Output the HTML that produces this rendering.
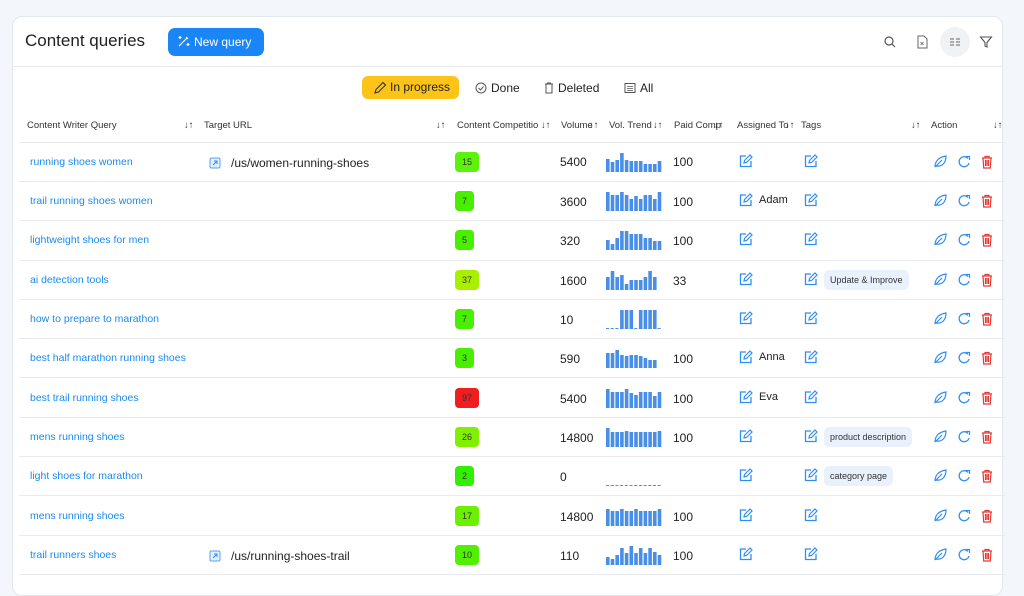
<!DOCTYPE html>
<html><head><meta charset="utf-8"><style>
*{box-sizing:border-box;margin:0;padding:0}
body{width:1024px;height:576px;overflow:hidden;background:#f3f6fb;font-family:"Liberation Sans",sans-serif;position:relative;color:#222}
.card{position:absolute;left:12px;top:16px;width:991px;height:580px;background:#fff;border:1px solid #e3e7ee;border-radius:10px}
.a{position:absolute;white-space:nowrap}
.t{position:absolute;font-size:12px;line-height:14px;white-space:nowrap}
.q{color:#1a8af0;font-size:10.5px}
.h{font-size:9.5px;color:#333;top:119px}
.line{position:absolute;left:19px;width:986px;height:1px;background:#e8eaee}
.b{position:absolute;height:20px;border-radius:4px;font-size:9px;line-height:20px;text-align:center;color:#333}
.tag{position:absolute;height:20px;border-radius:5px;background:#e9f1fd;font-size:9px;line-height:20px;padding:0 6px;color:#333}
svg.i{position:absolute;width:14px;height:14px}
svg.s{position:absolute;left:606px;width:56px;height:20px}
</style></head><body>
<svg width="0" height="0" style="position:absolute">
<defs>
<symbol id="ed" viewBox="0 0 14 14"><path d="M7 2H1.5v10.5H12V7" fill="none" stroke="#2f8ef5" stroke-width="1.3"/><path d="M5 9l.5-2.5L11 1l2 2-5.5 5.5z" fill="none" stroke="#2f8ef5" stroke-width="1.2"/></symbol>
<symbol id="lf" viewBox="0 0 14 14"><path d="M2 12C2 6 6 2 13 1c0 7-4 11-10 10M2 12l7-7" fill="none" stroke="#2f8ef5" stroke-width="1.2"/></symbol>
<symbol id="rf" viewBox="0 0 14 14"><path d="M11 3.5A5 5 0 1 0 12 8" fill="none" stroke="#2f8ef5" stroke-width="1.3"/><path d="M9 1.5h3.5V5" fill="none" stroke="#2f8ef5" stroke-width="1.2"/></symbol>
<symbol id="tr" viewBox="0 0 14 14"><path d="M2 3h10M5 3V1.5h4V3M3 3l.7 10h6.6L11 3M5.5 5v6M7 5v6M8.5 5v6" fill="none" stroke="#e53935" stroke-width="1.2"/></symbol>
<symbol id="ex" viewBox="0 0 14 14"><rect x="2" y="2" width="10" height="10" rx="1.5" fill="#e3efff" stroke="#5aa0f0"/><path d="M5 9l4-4M6 5h3v3" fill="none" stroke="#2f8ef5" stroke-width="1"/></symbol>
<symbol id="sp" viewBox="0 0 56 20"><g fill="#4a8fe7"/></symbol>
</defs></svg>

<div class="card"></div>
<div class="t" style="left:25px;top:31px;font-size:17px;line-height:20px;color:#222">Content queries</div>
<div class="a" style="left:168px;top:28px;width:96px;height:28px;background:#1a85f5;border-radius:7px;color:#fff;font-size:12px;line-height:28px;padding-left:26px">New query</div>
<svg class="i" style="left:177px;top:34px" viewBox="0 0 14 14"><path d="M2 12L10 4M9 3l2 2M3 2v3M1.5 3.5h3M11 9v3M9.5 10.5h3" stroke="#fff" stroke-width="1.2" fill="none"/></svg>
<svg class="i" style="left:883px;top:35px" viewBox="0 0 14 14"><circle cx="6" cy="6" r="4" fill="none" stroke="#555" stroke-width="1.2"/><path d="M9 9l3 3" stroke="#555" stroke-width="1.2"/></svg>
<svg class="i" style="left:915px;top:35px" viewBox="0 0 14 14"><path d="M3 1h6l3 3v9H3z" fill="none" stroke="#666"/><path d="M5.5 7l3 3M8.5 7l-3 3" stroke="#666" stroke-width=".8"/></svg>
<div class="a" style="left:940px;top:27px;width:30px;height:30px;border-radius:15px;background:#f1f2f4"></div>
<svg class="i" style="left:948px;top:35px" viewBox="0 0 14 14"><path d="M2 4h4M8 4h4M2 7h4M8 7h4M2 10h4M8 10h4" stroke="#666"/></svg>
<svg class="i" style="left:979px;top:35px" viewBox="0 0 14 14"><path d="M1.5 2h11L8 7.5V12L6 11V7.5z" fill="none" stroke="#555" stroke-width="1.1"/></svg>
<div class="a" style="left:12px;top:66px;width:991px;height:1px;background:#e8eaee"></div>

<div class="a" style="left:362px;top:76px;width:97px;height:23px;background:#fcc419;border-radius:6px;font-size:12px;line-height:23px;padding-left:28px;color:#222">In progress</div>
<svg class="i" style="left:373px;top:81px" viewBox="0 0 14 14"><path d="M2 12l1-3.5L10 1.5l2.5 2.5-7 7z" fill="none" stroke="#333" stroke-width="1.1"/></svg>
<svg class="i" style="left:474px;top:81px" viewBox="0 0 14 14"><circle cx="7" cy="7" r="5" fill="none" stroke="#555"/><path d="M4.5 7l2 2 3-3.5" fill="none" stroke="#555"/></svg>
<div class="t" style="left:491px;top:81px">Done</div>
<svg class="i" style="left:542px;top:81px" viewBox="0 0 14 14"><path d="M3 3h8M5.5 3V2h3v1M4 3.5v8.5h6V3.5" fill="none" stroke="#555"/></svg>
<div class="t" style="left:558px;top:81px">Deleted</div>
<svg class="i" style="left:623px;top:81px" viewBox="0 0 14 14"><rect x="2" y="2.5" width="10" height="9" fill="none" stroke="#555"/><path d="M4 5.5h6M4 7.5h6M4 9.5h6" stroke="#555" stroke-width=".8"/></svg>
<div class="t" style="left:640px;top:81px">All</div>

<div class="t h" style="left:27px">Content Writer Query</div><div class="t h" style="left:184px">↓↑</div>
<div class="t h" style="left:204px">Target URL</div><div class="t h" style="left:436px">↓↑</div>
<div class="t h" style="left:457px">Content Competitio</div><div class="t h" style="left:541px">↓↑</div>
<div class="t h" style="left:561px">Volume</div><div class="t h" style="left:589px">↓↑</div>
<div class="t h" style="left:609px">Vol. Trend</div><div class="t h" style="left:653px">↓↑</div>
<div class="t h" style="left:674px">Paid Comp</div><div class="t h" style="left:714px">↓↑</div>
<div class="t h" style="left:737px">Assigned To</div><div class="t h" style="left:785px">↓↑</div>
<div class="t h" style="left:801px">Tags</div><div class="t h" style="left:911px">↓↑</div>
<div class="t h" style="left:931px">Action</div><div class="t h" style="left:993px">↓↑</div>
<div class="line" style="top:142px"></div>

<!-- row 1 -->
<div class="t q" style="left:30px;top:155px">running shoes women</div>
<svg class="i" style="left:208px;top:156px"><use href="#ex"/></svg><div class="t" style="left:231px;top:156px">/us/women-running-shoes</div>
<div class="b" style="left:455px;top:152px;width:24px;background:#5cf20a">15</div>
<div class="t" style="left:560px;top:155px">5400</div>
<svg class="s" style="top:152px" viewBox="0 0 56 20"><g fill="#4a8fe7"><rect x="0" y="7" width="3.6" height="13"/><rect x="4.7" y="10" width="3.6" height="10"/><rect x="9.4" y="8" width="3.6" height="12"/><rect x="14.1" y="1" width="3.6" height="19"/><rect x="18.8" y="8" width="3.6" height="12"/><rect x="23.5" y="9" width="3.6" height="11"/><rect x="28.2" y="9" width="3.6" height="11"/><rect x="32.9" y="9" width="3.6" height="11"/><rect x="37.6" y="12" width="3.6" height="8"/><rect x="42.3" y="12" width="3.6" height="8"/><rect x="47" y="12" width="3.6" height="8"/><rect x="51.7" y="9" width="3.6" height="11"/></g></svg>
<div class="t" style="left:673px;top:155px">100</div>
<svg class="i" style="left:739px;top:154px"><use href="#ed"/></svg>
<svg class="i" style="left:804px;top:154px"><use href="#ed"/></svg>
<svg class="i" style="left:933px;top:155px"><use href="#lf"/></svg><svg class="i" style="left:957px;top:155px"><use href="#rf"/></svg><svg class="i" style="left:980px;top:155px"><use href="#tr"/></svg>
<div class="line" style="top:181px"></div>

<!-- row 2 -->
<div class="t q" style="left:30px;top:194px">trail running shoes women</div>
<div class="b" style="left:455px;top:191px;width:19px;background:#48f000">7</div>
<div class="t" style="left:560px;top:195px">3600</div>
<svg class="s" style="top:191px" viewBox="0 0 56 20"><g fill="#4a8fe7"><rect x="0" y="1" width="3.6" height="19"/><rect x="4.7" y="4" width="3.6" height="16"/><rect x="9.4" y="4" width="3.6" height="16"/><rect x="14.1" y="1" width="3.6" height="19"/><rect x="18.8" y="4" width="3.6" height="16"/><rect x="23.5" y="8" width="3.6" height="12"/><rect x="28.2" y="5" width="3.6" height="15"/><rect x="32.9" y="8" width="3.6" height="12"/><rect x="37.6" y="4" width="3.6" height="16"/><rect x="42.3" y="4" width="3.6" height="16"/><rect x="47" y="8" width="3.6" height="12"/><rect x="51.7" y="1" width="3.6" height="19"/></g></svg>
<div class="t" style="left:673px;top:195px">100</div>
<svg class="i" style="left:739px;top:193px"><use href="#ed"/></svg><div class="t" style="left:759px;top:193px;font-size:11px">Adam</div>
<svg class="i" style="left:804px;top:193px"><use href="#ed"/></svg>
<svg class="i" style="left:933px;top:194px"><use href="#lf"/></svg><svg class="i" style="left:957px;top:194px"><use href="#rf"/></svg><svg class="i" style="left:980px;top:194px"><use href="#tr"/></svg>
<div class="line" style="top:220px"></div>

<!-- row 3 -->
<div class="t q" style="left:30px;top:233px">lightweight shoes for men</div>
<div class="b" style="left:455px;top:230px;width:19px;background:#48f000">5</div>
<div class="t" style="left:560px;top:234px">320</div>
<svg class="s" style="top:230px" viewBox="0 0 56 20"><g fill="#4a8fe7"><rect x="0" y="10" width="3.6" height="10"/><rect x="4.7" y="14" width="3.6" height="6"/><rect x="9.4" y="8" width="3.6" height="12"/><rect x="14.1" y="1" width="3.6" height="19"/><rect x="18.8" y="1" width="3.6" height="19"/><rect x="23.5" y="4" width="3.6" height="16"/><rect x="28.2" y="4" width="3.6" height="16"/><rect x="32.9" y="4" width="3.6" height="16"/><rect x="37.6" y="8" width="3.6" height="12"/><rect x="42.3" y="8" width="3.6" height="12"/><rect x="47" y="11" width="3.6" height="9"/><rect x="51.7" y="11" width="3.6" height="9"/></g></svg>
<div class="t" style="left:673px;top:234px">100</div>
<svg class="i" style="left:739px;top:232px"><use href="#ed"/></svg>
<svg class="i" style="left:804px;top:232px"><use href="#ed"/></svg>
<svg class="i" style="left:933px;top:233px"><use href="#lf"/></svg><svg class="i" style="left:957px;top:233px"><use href="#rf"/></svg><svg class="i" style="left:980px;top:233px"><use href="#tr"/></svg>
<div class="line" style="top:260px"></div>

<!-- row 4 -->
<div class="t q" style="left:30px;top:273px">ai detection tools</div>
<div class="b" style="left:455px;top:270px;width:24px;background:#a8f000">37</div>
<div class="t" style="left:560px;top:274px">1600</div>
<svg class="s" style="top:270px" viewBox="0 0 56 20"><g fill="#4a8fe7"><rect x="0" y="7" width="3.6" height="13"/><rect x="4.7" y="1" width="3.6" height="19"/><rect x="9.4" y="7" width="3.6" height="13"/><rect x="14.1" y="5" width="3.6" height="15"/><rect x="18.8" y="14" width="3.6" height="6"/><rect x="23.5" y="10" width="3.6" height="10"/><rect x="28.2" y="10" width="3.6" height="10"/><rect x="32.9" y="10" width="3.6" height="10"/><rect x="37.6" y="7" width="3.6" height="13"/><rect x="42.3" y="1" width="3.6" height="19"/><rect x="47" y="7" width="3.6" height="13"/></g></svg>
<div class="t" style="left:673px;top:274px">33</div>
<svg class="i" style="left:739px;top:272px"><use href="#ed"/></svg>
<svg class="i" style="left:804px;top:272px"><use href="#ed"/></svg><div class="tag" style="left:824px;top:270px">Update &amp; Improve</div>
<svg class="i" style="left:933px;top:273px"><use href="#lf"/></svg><svg class="i" style="left:957px;top:273px"><use href="#rf"/></svg><svg class="i" style="left:980px;top:273px"><use href="#tr"/></svg>
<div class="line" style="top:299px"></div>

<!-- row 5 -->
<div class="t q" style="left:30px;top:312px">how to prepare to marathon</div>
<div class="b" style="left:455px;top:309px;width:19px;background:#48f000">7</div>
<div class="t" style="left:560px;top:313px">10</div>
<svg class="s" style="top:309px" viewBox="0 0 56 20"><line x1="0" y1="19.5" x2="56" y2="19.5" stroke="#4a8fe7" stroke-dasharray="3 1.7"/><g fill="#4a8fe7"><rect x="14.1" y="1" width="3.6" height="19"/><rect x="18.8" y="1" width="3.6" height="19"/><rect x="23.5" y="1" width="3.6" height="19"/><rect x="32.9" y="1" width="3.6" height="19"/><rect x="37.6" y="1" width="3.6" height="19"/><rect x="42.3" y="1" width="3.6" height="19"/><rect x="47" y="1" width="3.6" height="19"/></g></svg>
<svg class="i" style="left:739px;top:311px"><use href="#ed"/></svg>
<svg class="i" style="left:804px;top:311px"><use href="#ed"/></svg>
<svg class="i" style="left:933px;top:312px"><use href="#lf"/></svg><svg class="i" style="left:957px;top:312px"><use href="#rf"/></svg><svg class="i" style="left:980px;top:312px"><use href="#tr"/></svg>
<div class="line" style="top:338px"></div>

<!-- row 6 -->
<div class="t q" style="left:30px;top:351px">best half marathon running shoes</div>
<div class="b" style="left:455px;top:348px;width:19px;background:#48f000">3</div>
<div class="t" style="left:560px;top:352px">590</div>
<svg class="s" style="top:348px" viewBox="0 0 56 20"><g fill="#4a8fe7"><rect x="0" y="5" width="3.6" height="15"/><rect x="4.7" y="5" width="3.6" height="15"/><rect x="9.4" y="2" width="3.6" height="18"/><rect x="14.1" y="7" width="3.6" height="13"/><rect x="18.8" y="8" width="3.6" height="12"/><rect x="23.5" y="7" width="3.6" height="13"/><rect x="28.2" y="7" width="3.6" height="13"/><rect x="32.9" y="8" width="3.6" height="12"/><rect x="37.6" y="10" width="3.6" height="10"/><rect x="42.3" y="12" width="3.6" height="8"/><rect x="47" y="12" width="3.6" height="8"/></g></svg>
<div class="t" style="left:673px;top:352px">100</div>
<svg class="i" style="left:739px;top:350px"><use href="#ed"/></svg><div class="t" style="left:759px;top:350px;font-size:11px">Anna</div>
<svg class="i" style="left:804px;top:350px"><use href="#ed"/></svg>
<svg class="i" style="left:933px;top:351px"><use href="#lf"/></svg><svg class="i" style="left:957px;top:351px"><use href="#rf"/></svg><svg class="i" style="left:980px;top:351px"><use href="#tr"/></svg>
<div class="line" style="top:377px"></div>

<!-- row 7 -->
<div class="t q" style="left:30px;top:391px">best trail running shoes</div>
<div class="b" style="left:455px;top:388px;width:24px;background:#f01e1e">97</div>
<div class="t" style="left:560px;top:392px">5400</div>
<svg class="s" style="top:388px" viewBox="0 0 56 20"><g fill="#4a8fe7"><rect x="0" y="1" width="3.6" height="19"/><rect x="4.7" y="4" width="3.6" height="16"/><rect x="9.4" y="4" width="3.6" height="16"/><rect x="14.1" y="4" width="3.6" height="16"/><rect x="18.8" y="1" width="3.6" height="19"/><rect x="23.5" y="5" width="3.6" height="15"/><rect x="28.2" y="7" width="3.6" height="13"/><rect x="32.9" y="4" width="3.6" height="16"/><rect x="37.6" y="4" width="3.6" height="16"/><rect x="42.3" y="4" width="3.6" height="16"/><rect x="47" y="8" width="3.6" height="12"/><rect x="51.7" y="4" width="3.6" height="16"/></g></svg>
<div class="t" style="left:673px;top:392px">100</div>
<svg class="i" style="left:739px;top:390px"><use href="#ed"/></svg><div class="t" style="left:759px;top:390px;font-size:11px">Eva</div>
<svg class="i" style="left:804px;top:390px"><use href="#ed"/></svg>
<svg class="i" style="left:933px;top:391px"><use href="#lf"/></svg><svg class="i" style="left:957px;top:391px"><use href="#rf"/></svg><svg class="i" style="left:980px;top:391px"><use href="#tr"/></svg>
<div class="line" style="top:417px"></div>

<!-- row 8 -->
<div class="t q" style="left:30px;top:430px">mens running shoes</div>
<div class="b" style="left:455px;top:427px;width:24px;background:#80f000">26</div>
<div class="t" style="left:560px;top:431px">14800</div>
<svg class="s" style="top:427px" viewBox="0 0 56 20"><g fill="#4a8fe7"><rect x="0" y="1" width="3.6" height="19"/><rect x="4.7" y="5" width="3.6" height="15"/><rect x="9.4" y="5" width="3.6" height="15"/><rect x="14.1" y="5" width="3.6" height="15"/><rect x="18.8" y="4" width="3.6" height="16"/><rect x="23.5" y="5" width="3.6" height="15"/><rect x="28.2" y="5" width="3.6" height="15"/><rect x="32.9" y="5" width="3.6" height="15"/><rect x="37.6" y="5" width="3.6" height="15"/><rect x="42.3" y="5" width="3.6" height="15"/><rect x="47" y="5" width="3.6" height="15"/><rect x="51.7" y="4" width="3.6" height="16"/></g></svg>
<div class="t" style="left:673px;top:431px">100</div>
<svg class="i" style="left:739px;top:429px"><use href="#ed"/></svg>
<svg class="i" style="left:804px;top:429px"><use href="#ed"/></svg><div class="tag" style="left:824px;top:427px">product description</div>
<svg class="i" style="left:933px;top:430px"><use href="#lf"/></svg><svg class="i" style="left:957px;top:430px"><use href="#rf"/></svg><svg class="i" style="left:980px;top:430px"><use href="#tr"/></svg>
<div class="line" style="top:456px"></div>

<!-- row 9 -->
<div class="t q" style="left:30px;top:469px">light shoes for marathon</div>
<div class="b" style="left:455px;top:466px;width:19px;background:#30f000">2</div>
<div class="t" style="left:560px;top:470px">0</div>
<svg class="s" style="top:466px" viewBox="0 0 56 20"><line x1="0" y1="19.5" x2="56" y2="19.5" stroke="#4a8fe7" stroke-dasharray="3 1.7"/></svg>
<svg class="i" style="left:739px;top:468px"><use href="#ed"/></svg>
<svg class="i" style="left:804px;top:468px"><use href="#ed"/></svg><div class="tag" style="left:824px;top:466px">category page</div>
<svg class="i" style="left:933px;top:469px"><use href="#lf"/></svg><svg class="i" style="left:957px;top:469px"><use href="#rf"/></svg><svg class="i" style="left:980px;top:469px"><use href="#tr"/></svg>
<div class="line" style="top:495px"></div>

<!-- row 10 -->
<div class="t q" style="left:30px;top:509px">mens running shoes</div>
<div class="b" style="left:455px;top:506px;width:24px;background:#6af000">17</div>
<div class="t" style="left:560px;top:510px">14800</div>
<svg class="s" style="top:506px" viewBox="0 0 56 20"><g fill="#4a8fe7"><rect x="0" y="3" width="3.6" height="17"/><rect x="4.7" y="5" width="3.6" height="15"/><rect x="9.4" y="5" width="3.6" height="15"/><rect x="14.1" y="3" width="3.6" height="17"/><rect x="18.8" y="5" width="3.6" height="15"/><rect x="23.5" y="5" width="3.6" height="15"/><rect x="28.2" y="3" width="3.6" height="17"/><rect x="32.9" y="5" width="3.6" height="15"/><rect x="37.6" y="5" width="3.6" height="15"/><rect x="42.3" y="5" width="3.6" height="15"/><rect x="47" y="5" width="3.6" height="15"/><rect x="51.7" y="3" width="3.6" height="17"/></g></svg>
<div class="t" style="left:673px;top:510px">100</div>
<svg class="i" style="left:739px;top:508px"><use href="#ed"/></svg>
<svg class="i" style="left:804px;top:508px"><use href="#ed"/></svg>
<svg class="i" style="left:933px;top:509px"><use href="#lf"/></svg><svg class="i" style="left:957px;top:509px"><use href="#rf"/></svg><svg class="i" style="left:980px;top:509px"><use href="#tr"/></svg>
<div class="line" style="top:535px"></div>

<!-- row 11 -->
<div class="t q" style="left:30px;top:548px">trail runners shoes</div>
<svg class="i" style="left:208px;top:549px"><use href="#ex"/></svg><div class="t" style="left:231px;top:549px">/us/running-shoes-trail</div>
<div class="b" style="left:455px;top:545px;width:24px;background:#50f000">10</div>
<div class="t" style="left:560px;top:549px">110</div>
<svg class="s" style="top:545px" viewBox="0 0 56 20"><g fill="#4a8fe7"><rect x="0" y="12" width="3.6" height="8"/><rect x="4.7" y="14" width="3.6" height="6"/><rect x="9.4" y="10" width="3.6" height="10"/><rect x="14.1" y="3" width="3.6" height="17"/><rect x="18.8" y="8" width="3.6" height="12"/><rect x="23.5" y="1" width="3.6" height="19"/><rect x="28.2" y="8" width="3.6" height="12"/><rect x="32.9" y="3" width="3.6" height="17"/><rect x="37.6" y="8" width="3.6" height="12"/><rect x="42.3" y="3" width="3.6" height="17"/><rect x="47" y="7" width="3.6" height="13"/><rect x="51.7" y="10" width="3.6" height="10"/></g></svg>
<div class="t" style="left:673px;top:549px">100</div>
<svg class="i" style="left:739px;top:547px"><use href="#ed"/></svg>
<svg class="i" style="left:804px;top:547px"><use href="#ed"/></svg>
<svg class="i" style="left:933px;top:548px"><use href="#lf"/></svg><svg class="i" style="left:957px;top:548px"><use href="#rf"/></svg><svg class="i" style="left:980px;top:548px"><use href="#tr"/></svg>
<div class="line" style="top:574px"></div>
</body></html>
